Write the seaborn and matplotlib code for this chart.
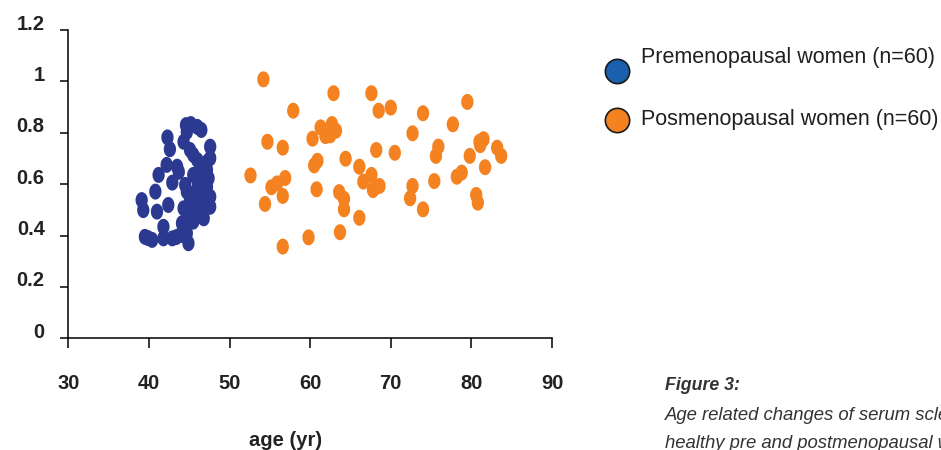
import numpy as np
import pandas as pd
import seaborn as sns
import matplotlib.pyplot as plt
from matplotlib.path import Path
from matplotlib.lines import Line2D
from matplotlib.transforms import ScaledTranslation

# Serum levels by age, premenopausal group
pre_age = [44.6, 45.2, 46.0, 46.5, 44.7, 42.3, 42.6, 44.3, 45.1, 45.5,
           47.6, 47.6, 46.0, 46.6, 47.2, 42.2, 43.5, 43.7, 41.2, 42.9,
           45.5, 46.0, 47.4, 47.2, 44.5, 44.7, 45.5, 46.4, 40.8, 47.6,
           46.6, 39.1, 39.3, 45.5, 46.8, 47.6, 42.4, 41.0, 44.3, 44.9,
           45.5, 46.8, 44.1, 41.8, 39.5, 40.4, 41.8, 42.9, 43.9, 44.7,
           44.9, 46.1, 46.9, 46.0, 45.1, 47.0, 39.9, 43.4, 46.2, 47.2]
pre_val = [0.830, 0.834, 0.823, 0.811, 0.803, 0.782, 0.736, 0.765, 0.733, 0.714,
           0.746, 0.701, 0.694, 0.668, 0.655, 0.675, 0.668, 0.648, 0.636, 0.606,
           0.636, 0.616, 0.623, 0.590, 0.597, 0.571, 0.564, 0.577, 0.571, 0.551,
           0.538, 0.538, 0.499, 0.519, 0.512, 0.512, 0.519, 0.493, 0.506, 0.473,
           0.454, 0.467, 0.448, 0.434, 0.395, 0.383, 0.389, 0.389, 0.402, 0.409,
           0.370, 0.597, 0.558, 0.492, 0.546, 0.608, 0.390, 0.394, 0.647, 0.686]

# Serum levels by age, postmenopausal group
post_age = [54.2, 62.9, 57.9, 61.3, 62.7, 63.2, 61.9, 60.3, 54.7, 56.6,
            64.4, 60.9, 60.5, 52.6, 56.9, 55.9, 55.2, 56.6, 60.8, 63.6,
            64.2, 64.2, 54.4, 63.7, 59.8, 56.6, 67.6, 68.5, 70.0, 74.0,
            72.7, 68.2, 70.5, 66.1, 67.6, 66.6, 67.8, 68.6, 72.7, 72.4,
            74.0, 66.1, 79.5, 77.7, 75.9, 75.6, 81.5, 81.1, 83.2, 83.7,
            79.8, 81.7, 78.8, 78.2, 75.4, 80.6, 80.8, 62.5, 68.0, 81.0]
post_val = [1.008, 0.954, 0.886, 0.821, 0.834, 0.808, 0.787, 0.777, 0.765, 0.742,
            0.699, 0.691, 0.673, 0.634, 0.624, 0.603, 0.588, 0.554, 0.580, 0.569,
            0.543, 0.502, 0.523, 0.413, 0.393, 0.357, 0.954, 0.886, 0.898, 0.876,
            0.798, 0.733, 0.722, 0.668, 0.636, 0.610, 0.577, 0.593, 0.593, 0.545,
            0.502, 0.469, 0.920, 0.833, 0.746, 0.710, 0.775, 0.752, 0.742, 0.710,
            0.710, 0.666, 0.645, 0.629, 0.612, 0.558, 0.528, 0.790, 0.585, 0.765]

groups = ["Premenopausal women (n=60)", "Posmenopausal women (n=60)"]
x_ticks = [30, 40, 50, 60, 70, 80, 90]
y_ticks = [0, 0.2, 0.4, 0.6, 0.8, 1.0, 1.2]
y_tick_labels = ["0", "0.2", "0.4", "0.6", "0.8", "1", "1.2"]

dot_colors = {groups[0]: "#2b3990", groups[1]: "#f58220"}
key_colors = {groups[0]: "#1b5faf", groups[1]: "#f58220"}

sns.set_theme(style="white")
plt.rcParams["font.family"] = ["Liberation Sans", "DejaVu Sans"]

df = pd.DataFrame({
    "age": pre_age + post_age,
    "value": pre_val + post_val,
    "group": [groups[0]] * len(pre_age) + [groups[1]] * len(post_age),
})

fig = plt.figure(figsize=(9.41, 4.5), dpi=100)
ax = fig.add_axes([0.0726, 0.2482, 0.5140, 0.6851])

# Slightly tall oval dots
theta = np.linspace(0, 2 * np.pi, 64)
oval = Path(np.column_stack([0.385 * np.cos(theta), 0.5 * np.sin(theta)]), closed=True)

sns.scatterplot(data=df, x="age", y="value", hue="group", palette=dot_colors,
                marker=oval, s=132, linewidth=0, edgecolor="none",
                legend=False, ax=ax)

ax.set_xlim(30, 90)
ax.set_ylim(0, 1.2)
ax.set_xticks(x_ticks)
ax.set_yticks(y_ticks)
ax.set_yticklabels(y_tick_labels)
ax.set_xlabel("")
ax.set_ylabel("")

for side in ["top", "right"]:
    ax.spines[side].set_visible(False)
for side in ["left", "bottom"]:
    ax.spines[side].set_color("black")
    ax.spines[side].set_linewidth(1.1)

ax.tick_params(axis="x", direction="out", length=7.5, width=1.1, color="black",
               pad=18, labelsize=14.5, labelcolor="#222222", bottom=True)
ax.tick_params(axis="y", direction="out", length=6, width=1.1, color="black",
               pad=11, labelsize=14.5, labelcolor="#222222", left=True)
for lab in ax.get_xticklabels() + ax.get_yticklabels():
    lab.set_fontweight("bold")
# y labels sit a little above their ticks
shift = ScaledTranslation(0, 8 / 100, fig.dpi_scale_trans)
for lab in ax.get_yticklabels():
    lab.set_transform(lab.get_transform() + shift)

fig.text(286 / 941, 1 - 440 / 450, "age (yr)", ha="center", va="center",
         fontsize=14.5, fontweight="bold", color="#222222")

# Key
key_rows = [(groups[0], 71, 58), (groups[1], 120, 119)]
for name, my, ty in key_rows:
    fig.add_artist(Line2D([617 / 941], [1 - my / 450], marker="o", markersize=17.5,
                          markerfacecolor=key_colors[name], markeredgecolor="#1a1a1a",
                          markeredgewidth=1.2, linestyle="none",
                          transform=fig.transFigure))
    fig.text(641 / 941, 1 - ty / 450, name, ha="left", va="center",
             fontsize=15.5, color="#231f20")

# Caption
fig.text(665 / 941, 1 - 385 / 450, "Figure 3:", ha="left", va="center",
         fontsize=12.8, fontweight="bold", fontstyle="italic", color="#333333")
fig.text(665 / 941, 1 - 415 / 450, "Age related changes of serum sclerostin levels in",
         ha="left", va="center", fontsize=13.3, fontstyle="italic", color="#333333")
fig.text(665 / 941, 1 - 443 / 450, "healthy pre and postmenopausal women",
         ha="left", va="center", fontsize=13.3, fontstyle="italic", color="#333333")

fig.savefig("out.png", dpi=100)
